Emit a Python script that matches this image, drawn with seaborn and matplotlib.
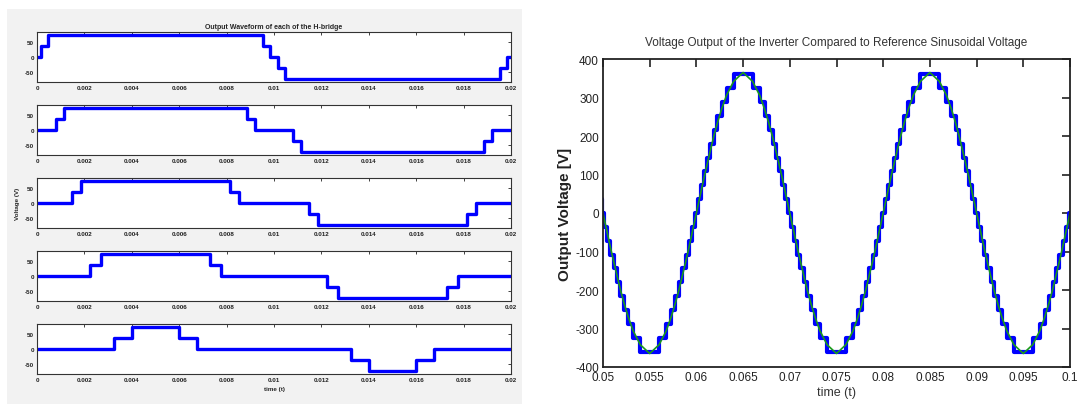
import numpy as np
import pandas as pd
import matplotlib
matplotlib.use("Agg")
import matplotlib.pyplot as plt
import seaborn as sns
from matplotlib import font_manager
from matplotlib.patches import Rectangle

# ---------------- data ----------------
period = 0.02                      # one fundamental cycle (s)
bridge_levels = [36, 72]           # intermediate and full step of each H-bridge (V)
# switching instants in the first quarter cycle for each H-bridge (s)
bridge_switch = [
    [0.00016, 0.00048],
    [0.00080, 0.00114],
    [0.00149, 0.00185],
    [0.00225, 0.00270],
    [0.00323, 0.00399],
]
# reference sinusoid, first quarter cycle (time s, voltage V)
ref_quarter_t = [0.0, 0.00016, 0.00048, 0.00080, 0.00114, 0.00149, 0.00185,
                 0.00225, 0.00270, 0.00323, 0.00399, 0.005]
ref_quarter_v = [0, 18, 54, 90, 126, 162, 198, 234, 270, 306, 342, 365]

left_xticks = [0, 0.002, 0.004, 0.006, 0.008, 0.01, 0.012, 0.014, 0.016, 0.018, 0.02]
left_xticklabels = ["0", "0.002", "0.004", "0.006", "0.008", "0.01", "0.012", "0.014", "0.016", "0.018", "0.02"]
left_yticks = [-50, 0, 50]
right_xticks = [0.05, 0.055, 0.06, 0.065, 0.07, 0.075, 0.08, 0.085, 0.09, 0.095, 0.1]
right_xticklabels = ["0.05", "0.055", "0.06", "0.065", "0.07", "0.075", "0.08", "0.085", "0.09", "0.095", "0.1"]
right_yticks = [-400, -300, -200, -100, 0, 100, 200, 300, 400]

left_title = "Output Waveform of each of the H-bridge"
right_title = "Voltage Output of the Inverter Compared to Reference Sinusoidal Voltage"

# ---------------- build tables ----------------
h, H = bridge_levels
T = period


def bridge_edges(a, b):
    t = [0, a, b, T / 2 - b, T / 2 - a, T / 2 + a, T / 2 + b, T - b, T - a, T]
    v = [0, h, H, h, 0, -h, -H, -h, 0, 0]
    return np.array(t), np.array(v, dtype=float)


bridges = [bridge_edges(a, b) for a, b in bridge_switch]

# total staircase over several cycles
all_t = np.unique(np.concatenate([bt for bt, _ in bridges]))
tot_t, tot_v = [], []
for k in range(2, 5):
    for tt in all_t[:-1]:
        val = 0.0
        for bt, bv in bridges:
            idx = np.searchsorted(bt, tt, side="right") - 1
            val += bv[idx]
        tot_t.append(tt + k * T)
        tot_v.append(val)
tot_t.append(5 * T)
tot_v.append(0.0)
df_total = pd.DataFrame({"t": tot_t, "v": tot_v})

# reference curve by quarter-wave symmetry of read points
qt = np.array(ref_quarter_t)
qv = np.array(ref_quarter_v, dtype=float)
one_t = np.concatenate([qt, T / 2 - qt[::-1][1:], T / 2 + qt[1:], T - qt[::-1][1:]])
one_v = np.concatenate([qv, qv[::-1][1:], -qv[1:], -qv[::-1][1:]])
ref_t, ref_v = [], []
for k in range(2, 5):
    ref_t.extend((one_t[:-1] + k * T).tolist())
    ref_v.extend(one_v[:-1].tolist())
ref_t.append(5 * T)
ref_v.append(0.0)
df_ref = pd.DataFrame({"t": ref_t, "v": ref_v})

# ---------------- style ----------------
sns.set_theme(style="white")
names = {f.name for f in font_manager.fontManager.ttflist}
narrow = "Liberation Sans Narrow" if "Liberation Sans Narrow" in names else "Liberation Sans"
plt.rcParams["font.family"] = [narrow, "DejaVu Sans"]

W, Hh = 1081, 410
fig = plt.figure(figsize=(W / 100, Hh / 100), dpi=100)
fig.patch.set_facecolor("white")

# grey MATLAB figure panel for the left picture
fig.add_artist(Rectangle((7 / W, 1 - 405 / Hh), (522 - 7) / W, (405 - 10) / Hh,
                         transform=fig.transFigure, facecolor="#f2f2f2",
                         edgecolor="none", zorder=0))


def px_axes(x0, y0, x1, y1):
    return fig.add_axes([x0 / W, 1 - y1 / Hh, (x1 - x0) / W, (y1 - y0) / Hh])


for i, (bt, bv) in enumerate(bridges):
    top = 33 + 73 * i
    ax = px_axes(37, top, 511, top + 50)
    dfb = pd.DataFrame({"t": bt, "v": bv})
    sns.lineplot(data=dfb, x="t", y="v", ax=ax, color="#0000ff", linewidth=2.4,
                 drawstyle="steps-post", estimator=None, sort=False)
    ax.set_xlim(0, 0.02)
    ax.set_ylim(-82, 82)
    ax.set_xticks(left_xticks)
    ax.set_xticklabels(left_xticklabels)
    ax.set_yticks(left_yticks)
    ax.set_yticklabels([str(v) for v in left_yticks])
    ax.tick_params(direction="in", length=2.5, width=0.6, labelsize=4.5,
                   top=True, right=True, pad=2, colors="#222222")
    for lab in ax.get_xticklabels() + ax.get_yticklabels():
        lab.set_fontweight("bold")
    for s in ax.spines.values():
        s.set_color("#333333")
        s.set_linewidth(0.8)
    ax.set_facecolor("white")
    ax.set_xlabel("")
    ax.set_ylabel("")
    if i == 0:
        ax.set_title(left_title, fontsize=5, fontweight="bold", pad=3)
    if i == 2:
        ax.set_ylabel("Voltage (V)", fontsize=4.5, fontweight="bold", labelpad=4)
    if i == 4:
        ax.set_xlabel("time (t)", fontsize=4.5, fontweight="bold", labelpad=3)

# right main plot
axr = px_axes(603, 60, 1070, 368)
sns.lineplot(data=df_total, x="t", y="v", ax=axr, color="#0000ff", linewidth=3.0,
             drawstyle="steps-post", estimator=None, sort=False)
sns.lineplot(data=df_ref, x="t", y="v", ax=axr, color="#1a9a1a", linewidth=1.2,
             estimator=None, sort=False)
axr.set_xlim(0.05, 0.1)
axr.set_ylim(-400, 400)
axr.set_xticks(right_xticks)
axr.set_xticklabels(right_xticklabels)
axr.set_yticks(right_yticks)
axr.set_yticklabels([str(v) for v in right_yticks])
axr.tick_params(direction="in", length=6, width=1.2, labelsize=8.5,
                top=True, right=True, pad=3, colors="#222222")
for s in axr.spines.values():
    s.set_color("#222222")
    s.set_linewidth(1.3)
axr.set_facecolor("white")
axr.set_title(right_title, fontsize=8.5, pad=10, color="#333333")
axr.set_xlabel("time (t)", fontsize=9, labelpad=2, color="#333333")
axr.set_ylabel("Output Voltage [V]", fontsize=11, fontweight="bold", labelpad=2,
               color="#222222")

fig.savefig("out.png", dpi=100, facecolor="white")
